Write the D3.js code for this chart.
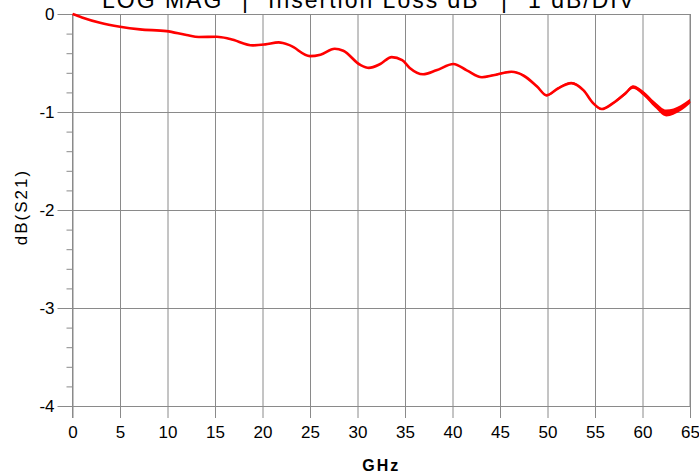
<!DOCTYPE html>
<html>
<head>
<meta charset="utf-8">
<script src="https://cdn.jsdelivr.net/npm/d3@7"></script>
<style>
  body { margin: 0; background: #fff; }
  svg { font-family: "Liberation Sans", Arial, sans-serif; }
</style>
</head>
<body>
<div id="chart"></div>
<script>
// trace
const freq = [0, 1, 2.9, 5, 7.1, 9.9, 12, 13.3, 15.2, 16.6, 19, 20.3, 21.7, 22.9, 25, 26.1, 27.6, 28.5,
  30.3, 31.2, 32.4, 33.6, 34.7, 35.5, 36.9, 38.3, 40.1, 41.5, 43.1, 44.3, 46.2, 47.5, 48.9, 49.9,
  51.1, 52.5, 53.8, 54.8, 55.7, 56.9, 58.2, 59, 60.1, 61.3, 62.5, 64, 65];
const s21 = [0, -0.035, -0.09, -0.13, -0.157, -0.175, -0.215, -0.235, -0.232, -0.255, -0.32, -0.31, -0.29, -0.32,
  -0.43, -0.415, -0.355, -0.375, -0.52, -0.55, -0.51, -0.44, -0.47, -0.55, -0.615, -0.575, -0.51, -0.575,
  -0.645, -0.625, -0.59, -0.63, -0.74, -0.83, -0.76, -0.705, -0.78, -0.91, -0.97, -0.91, -0.81, -0.745,
  -0.81, -0.925, -1.01, -0.96, -0.89];
// half width of the noisy band around the trace (dB)
const spread = [0, 0, 0, 0, 0, 0, 0, 0, 0, 0, 0, 0, 0, 0, 0, 0, 0, 0,
  0, 0, 0, 0, 0, 0, 0, 0, 0, 0.004, 0.008, 0.008, 0.008, 0.008, 0.01, 0.01,
  0.01, 0.01, 0.01, 0.01, 0.01, 0.012, 0.016, 0.018, 0.025, 0.03, 0.035, 0.03, 0.025];

const xTicks = [0, 5, 10, 15, 20, 25, 30, 35, 40, 45, 50, 55, 60, 65];
const yTicks = [0, -1, -2, -3, -4];
const yMinor = d3.range(0, -4.01, -0.2);

const width = 699, height = 476;
const margin = {top: 14, left: 72.5, bottom: 70, right: 9};

const svg = d3.select('#chart').append('svg')
  .attr('width', width).attr('height', height);

const x = d3.scaleLinear().domain([0, 65]).range([margin.left, width - margin.right]);
const y = d3.scaleLinear().domain([-4, 0]).range([height - margin.bottom, margin.top]);

const gridColor = '#8a8a8a';
const plotH = y(-4) - y(0);
const plotW = x(65) - x(0);

// vertical grid + bottom ticks
svg.append('g')
  .attr('transform', `translate(0, ${y(-4)})`)
  .call(d3.axisBottom(x).tickValues(xTicks).tickSizeInner(12).tickSizeOuter(0).tickPadding(8))
  .call(g => g.select('.domain').remove())
  .call(g => g.selectAll('line').attr('y1', -plotH).attr('y2', 12).attr('stroke', gridColor))
  .call(g => g.selectAll('text').attr('font-size', 17).attr('fill', '#000')
    .attr('font-family', '"Liberation Sans", Arial, sans-serif'));

// minor y ticks
svg.append('g')
  .attr('transform', `translate(${x(0)}, 0)`)
  .call(d3.axisLeft(y).tickValues(yMinor).tickSize(6).tickFormat(''))
  .call(g => g.select('.domain').remove())
  .call(g => g.selectAll('line').attr('stroke', gridColor));

// horizontal grid + major y ticks
svg.append('g')
  .attr('transform', `translate(${x(0)}, 0)`)
  .call(d3.axisLeft(y).tickValues(yTicks).tickSizeInner(15).tickSizeOuter(0).tickPadding(3).tickFormat(d => String(d)))
  .call(g => g.select('.domain').remove())
  .call(g => g.selectAll('line').attr('x1', plotW).attr('x2', -15).attr('stroke', gridColor))
  .call(g => g.selectAll('text').attr('font-size', 17).attr('fill', '#000')
    .attr('font-family', '"Liberation Sans", Arial, sans-serif'));

// frame (left and right edges)
svg.append('line').attr('x1', x(0)).attr('x2', x(0)).attr('y1', y(0)).attr('y2', y(-4) + 12)
  .attr('stroke', gridColor);
svg.append('line').attr('x1', x(65)).attr('x2', x(65)).attr('y1', y(0)).attr('y2', y(-4))
  .attr('stroke', gridColor);

const data = freq.map((f, i) => ({f: f, v: s21[i], s: spread[i]}));

// noisy band
svg.append('path')
  .datum(data)
  .attr('fill', '#ff0000')
  .attr('d', d3.area()
    .x(d => x(d.f))
    .y0(d => y(d.v - d.s))
    .y1(d => y(d.v + d.s))
    .curve(d3.curveMonotoneX));

// trace
svg.append('path')
  .datum(data)
  .attr('fill', 'none')
  .attr('stroke', '#ff0000')
  .attr('stroke-width', 2.6)
  .attr('stroke-linejoin', 'round')
  .attr('d', d3.line()
    .x(d => x(d.f))
    .y(d => y(d.v))
    .curve(d3.curveMonotoneX));

// title, cut off at the top as in the original
const title = svg.append('text')
  .attr('y', 8)
  .attr('font-size', 23)
  .attr('letter-spacing', 2);
title.append('tspan').attr('x', 102).text('LOG MAG');
title.append('tspan').attr('x', 242).text('|');
title.append('tspan').attr('x', 268).text('Insertion Loss dB');
title.append('tspan').attr('x', 501).text('|');
title.append('tspan').attr('x', 528).text('1 dB/DIV');

svg.append('text')
  .attr('transform', `translate(27, ${(y(0) + y(-4)) / 2 - 3}) rotate(-90)`)
  .attr('text-anchor', 'middle')
  .attr('font-size', 17)
  .attr('letter-spacing', 2)
  .text('dB(S21)');

svg.append('text')
  .attr('x', (x(0) + x(65)) / 2).attr('y', 471)
  .attr('text-anchor', 'middle')
  .attr('font-size', 16)
  .attr('font-weight', 'bold')
  .attr('letter-spacing', 2)
  .text('GHz');
</script>
</body>
</html>
